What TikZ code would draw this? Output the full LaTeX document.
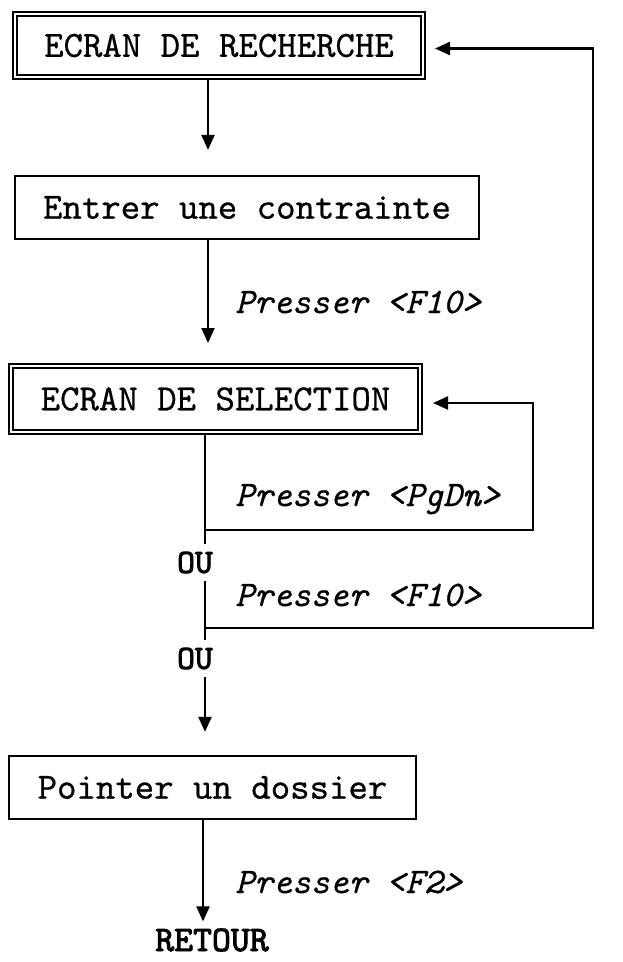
\documentclass[tikz,border=0pt]{standalone}
\usepackage{fontspec}
\usetikzlibrary{arrows.meta}
\newfontfamily\crfont{lmmono10-regular.otf}[ItalicFont=lmmono10-italic.otf, FakeBold=0.6]
\newfontfamily\crbold{lmmono10-regular.otf}[FakeBold=2.6]
\newcommand{\bxfont}{\crfont\fontsize{37}{40}\selectfont}
\newcommand{\lbfont}{\crfont\fontsize{36}{40}\selectfont\itshape}
\newcommand{\oufont}{\crbold\fontsize{34}{36}\selectfont}
\newcommand{\rtfont}{\crbold\fontsize{36}{40}\selectfont}
\begin{document}
\begin{tikzpicture}[x=1pt,y=-1pt,
  lw/.style={line width=2.2pt},
  box/.style={draw, line width=2.2pt, inner sep=0pt, font=\bxfont},
  dbox/.style={draw, double, double distance=2.4pt, line width=1.8pt, outer sep=3pt, inner sep=0pt, font=\bxfont},
  lab/.style={anchor=base west, inner sep=0pt, font=\lbfont},
  ou/.style={inner xsep=0pt, inner ysep=8pt, font=\oufont},
  arr/.style={line width=2.2pt, -{Triangle[length=15pt,width=13pt]}},
]
\useasboundingbox (0,0) rectangle (623,962);

\node[dbox, minimum width=408pt, minimum height=63pt] (b1) at (219,45.5) {ECRAN DE RECHERCHE};
\node[box, minimum width=464pt, minimum height=63pt] (b2) at (247,207.5) {Entrer une contrainte};
\node[dbox, minimum width=409pt, minimum height=66pt] (b3) at (215.5,399) {ECRAN DE SELECTION};
\node[box, minimum width=407pt, minimum height=63pt] (b4) at (212.5,787.5) {Pointer un dossier};

\node[ou] (ou1) at (195,562.5) {OU};
\node[ou] (ou2) at (195,658.5) {OU};
\node[inner sep=0pt, font=\rtfont] (ret) at (212,940) {RETOUR};

\node[lab] (l1) at (235,313) {Presser <F10>};
\node[lab] (l2) at (235,506) {Presser <PgDn>};
\node[lab] (l3) at (235,606) {Presser <F10>};
\node[lab] (l4) at (235,893) {Presser <F2>};

\coordinate (sA) at (208,0);
\coordinate (sB) at (205,0);
\coordinate (sC) at (203,0);
\coordinate (j1) at (205,530);
\coordinate (j2) at (205,628);
\coordinate (rP) at (533,0);
\coordinate (rF) at (593,0);

\draw[arr, shorten >=25pt] (b1.south -| sA) -- (b2.north -| sA);
\draw[arr, shorten >=20pt] (b2.south -| sA) -- (b3.north -| sA);
\draw[lw] (b3.south -| sB) -- (j1) -- (ou1.north -| sB);
\draw[lw] (ou1.south -| sB) -- (j2) -- (ou2.north -| sB);
\draw[arr, shorten >=23pt] (ou2.south -| sB) -- (b4.north -| sB);
\draw[arr, shorten >=7pt] (b4.south -| sC) -- (ret.north -| sC);

\draw[arr, shorten >=10pt, line join=miter] (j1) -- (j1 -| rP) -- ([yshift=-4pt]b3.east -| rP) -- ([yshift=-4pt]b3.east);
\draw[arr, shorten >=9pt, line join=miter] (j2) -- (j2 -| rF) -- ([yshift=-3pt]b1.east -| rF) -- ([yshift=-3pt]b1.east);
\end{tikzpicture}
\end{document}
